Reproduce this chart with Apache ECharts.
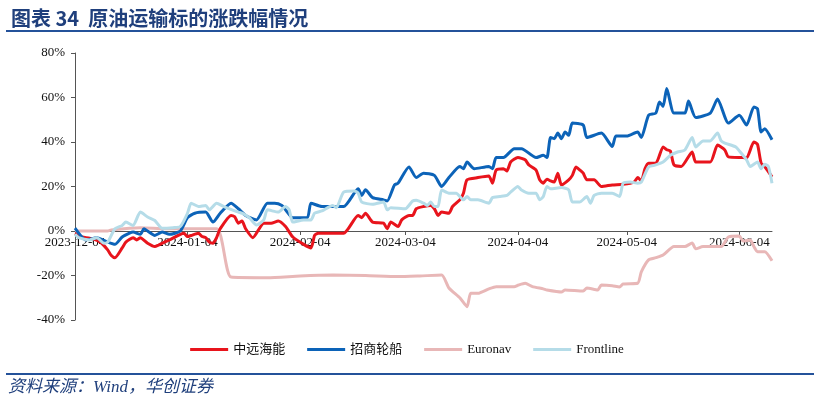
<!DOCTYPE html>
<html>
<head>
<meta charset="utf-8">
<title>原油运输标的涨跌幅情况</title>
<script src="https://cdn.jsdelivr.net/npm/echarts@6/dist/echarts.min.js"></script>
<style>
  html, body { margin: 0; padding: 0; background: #fff; }
  #chart { width: 814px; height: 405px; }
</style>
</head>
<body>
<div id="chart"></div>
<script>
// 坐标轴刻度
const xTicks = ['2023-12-04', '2024-01-04', '2024-02-04', '2024-03-04', '2024-04-04', '2024-05-04', '2024-06-04'];
const xStart = '2023-12-04';
const xEnd = '2024-06-13';
const yMin = -40;
const yMax = 80;
const yStep = 20;

// 各标的涨跌幅（%）
const cosco = [
  ['2023-12-04', -1], ['2023-12-06', -2.7], ['2023-12-08', -3.2], ['2023-12-11', -5], ['2023-12-13', -8.5],
  ['2023-12-14', -11], ['2023-12-15', -12], ['2023-12-17', -7.6], ['2023-12-18', -5], ['2023-12-20', -3],
  ['2023-12-21', -4], ['2023-12-22', -3], ['2023-12-24', -5.5], ['2023-12-26', -7], ['2023-12-27', -6.3],
  ['2023-12-30', -4], ['2024-01-03', -1], ['2024-01-04', -2.5], ['2024-01-05', -2], ['2024-01-07', -1],
  ['2024-01-08', -2.5], ['2024-01-09', -3], ['2024-01-10', -5], ['2024-01-11', -5.5], ['2024-01-12', -3],
  ['2024-01-13', 1], ['2024-01-16', 7], ['2024-01-17', 6.4], ['2024-01-18', 3.5], ['2024-01-19', 4.5],
  ['2024-01-20', 1], ['2024-01-22', -3], ['2024-01-25', 3.5], ['2024-01-27', 3.5], ['2024-01-29', 4.5],
  ['2024-01-31', 2], ['2024-02-02', -2.7], ['2024-02-05', -6], ['2024-02-07', -7.6], ['2024-02-08', -2],
  ['2024-02-09', -1], ['2024-02-16', -1], ['2024-02-20', 7], ['2024-02-21', 6], ['2024-02-22', 8],
  ['2024-02-24', 4], ['2024-02-27', 3.5], ['2024-02-28', 1], ['2024-02-29', 4], ['2024-03-02', 2],
  ['2024-03-03', 5], ['2024-03-05', 7], ['2024-03-06', 7], ['2024-03-07', 10], ['2024-03-09', 11],
  ['2024-03-11', 11.5], ['2024-03-12', 10], ['2024-03-13', 7], ['2024-03-14', 8.5], ['2024-03-16', 8],
  ['2024-03-17', 11], ['2024-03-19', 14], ['2024-03-20', 17], ['2024-03-21', 23], ['2024-03-24', 24],
  ['2024-03-27', 24.7], ['2024-03-28', 21.5], ['2024-03-29', 27.4], ['2024-03-31', 28], ['2024-04-01', 27],
  ['2024-04-02', 31], ['2024-04-04', 33], ['2024-04-06', 32], ['2024-04-07', 29.7], ['2024-04-09', 27.4],
  ['2024-04-10', 23], ['2024-04-11', 21.5], ['2024-04-12', 23.3], ['2024-04-13', 22.5], ['2024-04-14', 22],
  ['2024-04-15', 26], ['2024-04-16', 20.7], ['2024-04-18', 23], ['2024-04-19', 25], ['2024-04-20', 28.8],
  ['2024-04-21', 27.5], ['2024-04-22', 26], ['2024-04-23', 23], ['2024-04-25', 23], ['2024-04-27', 20],
  ['2024-04-30', 20.7], ['2024-05-03', 21], ['2024-05-06', 22], ['2024-05-07', 24], ['2024-05-08', 22.5],
  ['2024-05-09', 28], ['2024-05-10', 30.5], ['2024-05-12', 30.5], ['2024-05-14', 37.8], ['2024-05-15', 36.5],
  ['2024-05-16', 36], ['2024-05-17', 29.7], ['2024-05-19', 29], ['2024-05-22', 35.5], ['2024-05-23', 31],
  ['2024-05-27', 31], ['2024-05-29', 38.6], ['2024-05-31', 36.4], ['2024-06-01', 33.3], ['2024-06-05', 33],
  ['2024-06-06', 32.8], ['2024-06-08', 40], ['2024-06-09', 39], ['2024-06-10', 30.5], ['2024-06-11', 29],
  ['2024-06-13', 24.3]
];

const cmes = [
  ['2023-12-04', 1.3], ['2023-12-07', -4], ['2023-12-10', -3], ['2023-12-13', -5], ['2023-12-15', -6],
  ['2023-12-17', -2.7], ['2023-12-19', -1], ['2023-12-20', -0.5], ['2023-12-22', -1.5], ['2023-12-23', 1],
  ['2023-12-24', 0], ['2023-12-26', -2], ['2023-12-28', -0.5], ['2023-12-30', -1.5], ['2024-01-02', 0],
  ['2024-01-04', 6], ['2024-01-06', 8], ['2024-01-09', 8.5], ['2024-01-11', 4], ['2024-01-13', 8],
  ['2024-01-16', 12.5], ['2024-01-18', 10], ['2024-01-20', 7], ['2024-01-23', 5], ['2024-01-26', 12.5],
  ['2024-01-28', 12.5], ['2024-01-30', 11.5], ['2024-01-31', 9.5], ['2024-02-02', 6], ['2024-02-06', 6],
  ['2024-02-07', 12.5], ['2024-02-10', 11], ['2024-02-16', 11], ['2024-02-20', 19], ['2024-02-21', 16],
  ['2024-02-22', 18.5], ['2024-02-24', 15], ['2024-02-27', 14], ['2024-02-28', 13.5], ['2024-03-01', 20.7],
  ['2024-03-02', 21.5], ['2024-03-05', 28.8], ['2024-03-07', 24], ['2024-03-09', 26], ['2024-03-12', 25],
  ['2024-03-14', 20], ['2024-03-16', 24], ['2024-03-19', 29], ['2024-03-20', 28], ['2024-03-21', 31],
  ['2024-03-23', 28], ['2024-03-27', 29], ['2024-03-28', 28], ['2024-03-29', 33], ['2024-03-31', 33],
  ['2024-04-03', 37], ['2024-04-05', 37], ['2024-04-09', 33], ['2024-04-11', 34], ['2024-04-12', 33],
  ['2024-04-13', 42], ['2024-04-14', 41.5], ['2024-04-15', 44], ['2024-04-16', 41.5], ['2024-04-17', 44.5],
  ['2024-04-18', 43], ['2024-04-19', 48.5], ['2024-04-22', 47.6], ['2024-04-23', 42], ['2024-04-27', 44],
  ['2024-04-30', 38], ['2024-05-01', 42.7], ['2024-05-04', 42.7], ['2024-05-07', 44.5], ['2024-05-08', 42],
  ['2024-05-10', 52], ['2024-05-12', 53], ['2024-05-13', 58], ['2024-05-14', 56], ['2024-05-15', 64],
  ['2024-05-17', 53], ['2024-05-20', 53], ['2024-05-21', 58.4], ['2024-05-23', 51], ['2024-05-27', 53],
  ['2024-05-29', 59.3], ['2024-06-01', 48.5], ['2024-06-04', 52], ['2024-06-06', 47.6], ['2024-06-08', 55.7],
  ['2024-06-09', 55], ['2024-06-10', 44.5], ['2024-06-11', 46], ['2024-06-13', 41]
];

const euronav = [
  ['2023-12-04', 0], ['2023-12-13', 0], ['2023-12-14', 0.5], ['2023-12-22', 1.5], ['2023-12-29', 1],
  ['2024-01-12', 1], ['2024-01-16', -20.7], ['2024-01-26', -21], ['2024-02-04', -20.2], ['2024-02-13', -19.8],
  ['2024-02-22', -20], ['2024-03-02', -20.5], ['2024-03-08', -20.2], ['2024-03-14', -19.8], ['2024-03-16', -25.6],
  ['2024-03-19', -30], ['2024-03-21', -34], ['2024-03-22', -28], ['2024-03-24', -28], ['2024-03-27', -26],
  ['2024-03-29', -25], ['2024-04-03', -25], ['2024-04-04', -24.4], ['2024-04-06', -23.5], ['2024-04-08', -25],
  ['2024-04-11', -26], ['2024-04-12', -26.5], ['2024-04-16', -27.4], ['2024-04-17', -26.5], ['2024-04-22', -27],
  ['2024-04-23', -25.6], ['2024-04-26', -26.5], ['2024-04-27', -24.3], ['2024-04-30', -24.6], ['2024-05-02', -25.2],
  ['2024-05-03', -23.8], ['2024-05-07', -23.5], ['2024-05-08', -18.4], ['2024-05-10', -13], ['2024-05-12', -12],
  ['2024-05-14', -10.8], ['2024-05-17', -7], ['2024-05-20', -7], ['2024-05-22', -5.4], ['2024-05-23', -8],
  ['2024-05-25', -7], ['2024-05-30', -7], ['2024-06-01', -2.7], ['2024-06-04', -2.3], ['2024-06-05', -4.5],
  ['2024-06-07', -4], ['2024-06-08', -7], ['2024-06-09', -9.3], ['2024-06-11', -9.3], ['2024-06-13', -13.4]
];

const frontline = [
  ['2023-12-04', -1.5], ['2023-12-05', -3], ['2023-12-08', -4], ['2023-12-10', -3], ['2023-12-12', -5.5],
  ['2023-12-13', -5], ['2023-12-15', 1], ['2023-12-17', 2.5], ['2023-12-18', 4], ['2023-12-20', 2.5],
  ['2023-12-22', 8.5], ['2023-12-24', 6.3], ['2023-12-26', 4.7], ['2023-12-28', 1.2], ['2023-12-31', 1.5],
  ['2024-01-02', 2], ['2024-01-04', 8], ['2024-01-05', 12.5], ['2024-01-07', 11], ['2024-01-09', 11.5],
  ['2024-01-10', 9.5], ['2024-01-12', 12.5], ['2024-01-14', 11], ['2024-01-18', 8.5], ['2024-01-19', 8],
  ['2024-01-21', 6], ['2024-01-23', 2.7], ['2024-01-25', 5], ['2024-01-26', 9.5], ['2024-01-29', 8.5],
  ['2024-01-31', 11], ['2024-02-01', 9.5], ['2024-02-02', 4], ['2024-02-05', 5], ['2024-02-07', 5],
  ['2024-02-08', 8], ['2024-02-10', 9], ['2024-02-13', 11.5], ['2024-02-14', 10.5], ['2024-02-16', 17.5],
  ['2024-02-19', 18], ['2024-02-20', 17], ['2024-02-21', 13], ['2024-02-24', 12], ['2024-02-27', 13],
  ['2024-02-28', 9.5], ['2024-02-29', 10.5], ['2024-03-04', 10], ['2024-03-06', 13.5], ['2024-03-07', 13.8],
  ['2024-03-09', 12.5], ['2024-03-10', 11.5], ['2024-03-11', 13], ['2024-03-12', 11], ['2024-03-13', 11],
  ['2024-03-14', 18.4], ['2024-03-16', 17], ['2024-03-18', 17], ['2024-03-20', 14], ['2024-03-21', 15.5],
  ['2024-03-22', 14], ['2024-03-24', 14], ['2024-03-27', 12.5], ['2024-03-28', 15], ['2024-03-30', 15.5],
  ['2024-04-01', 16], ['2024-04-02', 17.5], ['2024-04-04', 20], ['2024-04-05', 18.4], ['2024-04-07', 17],
  ['2024-04-09', 17], ['2024-04-10', 14], ['2024-04-11', 15.5], ['2024-04-12', 20], ['2024-04-13', 19],
  ['2024-04-16', 19.5], ['2024-04-18', 18.5], ['2024-04-19', 13], ['2024-04-21', 13], ['2024-04-23', 15.5],
  ['2024-04-24', 12.5], ['2024-04-25', 16], ['2024-04-27', 17], ['2024-04-30', 17], ['2024-05-02', 15.5],
  ['2024-05-03', 21.5], ['2024-05-05', 22], ['2024-05-07', 21.5], ['2024-05-08', 22], ['2024-05-10', 28.8],
  ['2024-05-12', 29.7], ['2024-05-14', 31], ['2024-05-16', 34], ['2024-05-18', 35.5], ['2024-05-20', 36.4],
  ['2024-05-22', 42], ['2024-05-23', 37.8], ['2024-05-25', 40.5], ['2024-05-27', 40.5], ['2024-05-29', 44],
  ['2024-05-30', 40.5], ['2024-05-31', 39.5], ['2024-06-03', 37.8], ['2024-06-04', 36], ['2024-06-06', 32],
  ['2024-06-07', 29], ['2024-06-09', 31], ['2024-06-10', 28], ['2024-06-11', 30], ['2024-06-12', 29],
  ['2024-06-13', 21.5]
];

const seriesNames = ['中远海能', '招商轮船', 'Euronav', 'Frontline'];
const seriesColors = ['#e8141c', '#0c63b8', '#e8b7b7', '#b5dce8'];

// 'YYYY-MM-DD' -> 本地时间戳
const toTime = (s) => {
  const [y, m, d] = s.split('-').map(Number);
  return new Date(y, m - 1, d).getTime();
};
const pad = (n) => (n < 10 ? '0' + n : '' + n);
const fmtDate = (t) => {
  const d = new Date(t);
  return d.getFullYear() + '-' + pad(d.getMonth() + 1) + '-' + pad(d.getDate());
};

const serif = "'Liberation Serif', 'Noto Sans CJK SC', serif";
const navy = '#1f3f7c';

// 绘图区
const gridTop = 53;
const gridBottom = 85;
const chartHeight = 405;
// 横轴放在 0% 处：从底边往上挪的距离
const plotH = chartHeight - gridTop - gridBottom;
const zeroShift = plotH * (0 - yMin) / (yMax - yMin);

const myChart = echarts.init(document.getElementById('chart'));

const options = {
  animation: false,
  backgroundColor: '#fff',
  title: {
    text: '图表 34  原油运输标的涨跌幅情况',
    left: 6,
    top: 3,
    textStyle: {
      fontFamily: "'Noto Sans CJK SC', sans-serif",
      fontSize: 20,
      fontWeight: 'bold',
      color: navy
    }
  },
  graphic: [
    // 标题下方横线
    { type: 'line', shape: { x1: 6, y1: 31, x2: 814, y2: 31 }, style: { stroke: '#24529a', lineWidth: 2 } },
    // 来源上方横线
    { type: 'line', shape: { x1: 6, y1: 374, x2: 814, y2: 374 }, style: { stroke: '#24529a', lineWidth: 2 } },
    {
      type: 'text',
      left: 8,
      top: 379,
      style: {
        text: '资料来源：Wind，华创证券',
        font: "italic 17px 'Liberation Serif', 'Noto Sans CJK SC'",
        fill: navy
      }
    }
  ],
  legend: {
    top: 338,
    left: 'center',
    icon: 'rect',
    itemWidth: 38,
    itemHeight: 3,
    itemGap: 22,
    textStyle: { fontFamily: serif, fontSize: 13, color: '#111' },
    data: seriesNames
  },
  grid: {
    left: 75,
    right: 42,
    top: gridTop,
    bottom: gridBottom
  },
  // 用数值轴承载时间戳，刻度放在每月 4 日
  xAxis: {
    type: 'value',
    min: toTime(xStart),
    max: toTime(xEnd),
    offset: -zeroShift,
    splitLine: { show: false },
    axisLine: { onZero: false, lineStyle: { color: '#555', width: 1 } },
    axisTick: {
      show: true,
      length: 4,
      lineStyle: { color: '#555' },
      customValues: xTicks.map(toTime)
    },
    axisLabel: {
      color: '#111',
      fontFamily: serif,
      fontSize: 13,
      margin: 5,
      hideOverlap: false,
      showMinLabel: true,
      showMaxLabel: true,
      customValues: xTicks.map(toTime),
      formatter: (v) => fmtDate(v)
    }
  },
  yAxis: {
    type: 'value',
    min: yMin,
    max: yMax,
    interval: yStep,
    splitLine: { show: false },
    axisLine: { show: true, lineStyle: { color: '#555', width: 1 } },
    axisTick: { show: true, length: 4, lineStyle: { color: '#555' } },
    axisLabel: {
      color: '#111',
      fontFamily: serif,
      fontSize: 13,
      margin: 10,
      formatter: '{value}%'
    }
  },
  series: [cosco, cmes, euronav, frontline].map((arr, i) => ({
    name: seriesNames[i],
    type: 'line',
    showSymbol: false,
    smooth: 0.2,
    color: seriesColors[i],
    lineStyle: { width: 3, color: seriesColors[i] },
    z: i === 2 ? 1 : 2 + i,
    data: arr.map(([d, v]) => [toTime(d), v])
  }))
};

myChart.setOption(options);
</script>
</body>
</html>
